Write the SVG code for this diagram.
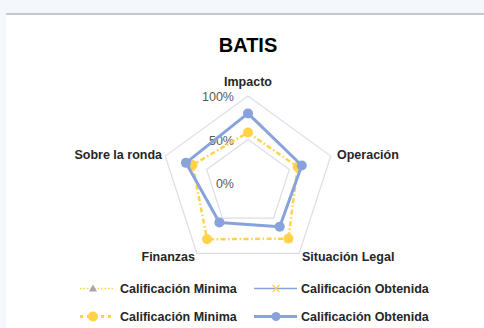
<svg xmlns="http://www.w3.org/2000/svg" width="484" height="328" viewBox="0 0 484 328">
<style>
.lbl{font-family:"Liberation Sans",Arial,sans-serif;font-weight:bold;font-size:12.5px;fill:#262626}
.tick{font-family:"Liberation Sans",Arial,sans-serif;font-size:12.5px;fill:#595959}
.grid{fill:none;stroke:#d9dee8;stroke-width:1.2}
.blue{fill:none;stroke:#88a3dc;stroke-width:3;stroke-linejoin:round}
.yel{fill:none;stroke:#ffd24a;stroke-width:2.5;stroke-dasharray:5 2.5 1.5 2.5}
.bm{fill:#88a3dc}
.ym{fill:#ffd24a}
</style>
<rect x="0" y="0" width="484" height="328" fill="#f4f7fc"/>
<rect x="6" y="14" width="478" height="314" fill="#ffffff"/>
<rect x="6" y="13" width="478" height="2" fill="#c8c8c8"/>
<text x="248" y="52" text-anchor="middle" style="font-family:'Liberation Sans',Arial,sans-serif;font-weight:bold;font-size:20px;fill:#000">BATIS</text>
<g id="grid">
<polygon class="grid" points="248,96 330.74,156.12 299.14,253.38 196.86,253.38 165.26,156.12"/>
<polygon class="grid" points="248,139.5 289.37,169.56 273.57,218.19 222.43,218.19 206.63,169.56"/>
<text class="tick" x="234" y="101" text-anchor="end">100%</text>
<text class="tick" x="234" y="144.5" text-anchor="end">50%</text>
<text class="tick" x="234" y="188" text-anchor="end">0%</text>
</g>
<g id="axis-impacto"><text class="lbl" x="248" y="86" text-anchor="middle">Impacto</text></g>
<g id="axis-operacion"><text class="lbl" x="337" y="159">Operación</text></g>
<g id="axis-situacion"><text class="lbl" x="302" y="261">Situación Legal</text></g>
<g id="axis-finanzas"><text class="lbl" x="195" y="261" text-anchor="end">Finanzas</text></g>
<g id="axis-sobre"><text class="lbl" x="162" y="159" text-anchor="end">Sobre la ronda</text></g>
<g id="connectors">
<polygon class="yel" points="248,132.54 297.65,166.87 288.4,238.6 207.09,239.31 192.56,164.99"/>
<g>
<circle class="ym" cx="248" cy="132.54" r="5"/>
<circle class="ym" cx="297.65" cy="166.87" r="5"/>
<circle class="ym" cx="288.4" cy="238.6" r="5"/>
<circle class="ym" cx="207.09" cy="239.31" r="5"/>
<circle class="ym" cx="192.56" cy="164.99" r="5"/>
</g>
<polygon class="blue" points="248,113.4 301.78,165.53 279.71,226.64 219.36,222.41 185.94,162.84"/>
<g>
<circle class="bm" cx="248" cy="113.4" r="5"/>
<circle class="bm" cx="301.78" cy="165.53" r="5"/>
<circle class="bm" cx="279.71" cy="226.64" r="5"/>
<circle class="bm" cx="219.36" cy="222.41" r="5"/>
<circle class="bm" cx="185.94" cy="162.84" r="5"/>
</g>
</g>
<g id="legend">
<line x1="80" y1="288.5" x2="113" y2="288.5" stroke="#ffd24a" stroke-width="1.5" stroke-dasharray="1.5 2"/>
<polygon points="93,284.5 97,291.5 89,291.5" fill="#a6a6a6"/>
<text class="lbl" x="120" y="293">Calificación Minima</text>
<line x1="254" y1="288.5" x2="297" y2="288.5" stroke="#88a3dc" stroke-width="1.5"/>
<path d="M272.5,285 L279.5,292 M279.5,285 L272.5,292" stroke="#ffd24a" stroke-width="1.3"/>
<text class="lbl" x="301" y="293">Calificación Obtenida</text>
<line x1="80" y1="316.5" x2="113" y2="316.5" stroke="#ffd24a" stroke-width="3" stroke-dasharray="3 4"/>
<circle cx="93" cy="316.5" r="5" fill="#ffd24a"/>
<text class="lbl" x="120" y="321">Calificación Minima</text>
<line x1="254" y1="316.5" x2="297" y2="316.5" stroke="#88a3dc" stroke-width="3"/>
<circle cx="276" cy="316.5" r="4.5" fill="#88a3dc"/>
<text class="lbl" x="301" y="321">Calificación Obtenida</text>
</g>
</svg>
